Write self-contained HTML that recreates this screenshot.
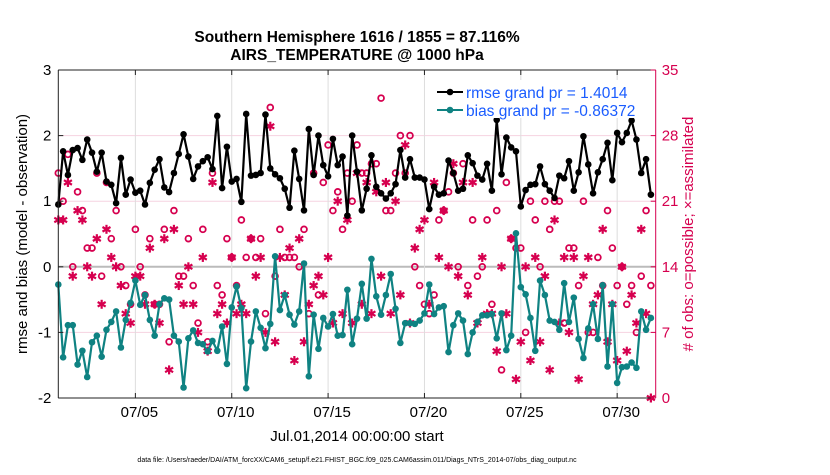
<!DOCTYPE html>
<html><head><meta charset="utf-8"><style>
body{margin:0;background:#fff;width:830px;height:470px;overflow:hidden}
svg{font-family:"Liberation Sans",sans-serif}
</style></head><body>
<svg id="chart" width="830" height="470" xmlns="http://www.w3.org/2000/svg">
<text x="357" y="42" text-anchor="middle" font-size="15.5" font-weight="bold">Southern Hemisphere 1616 / 1855 = 87.116%</text>
<text x="357" y="60" text-anchor="middle" font-size="15.5" font-weight="bold">AIRS_TEMPERATURE @ 1000 hPa</text>
<g id="grid"></g>
<g id="marks"></g>
<g id="axes"></g>
<text transform="translate(27,234) rotate(-90)" text-anchor="middle" font-size="15">rmse and bias (model - observation)</text>
<text transform="translate(693,234) rotate(-90)" text-anchor="middle" font-size="15" fill="#d6004f"># of obs: o=possible; ×=assimilated</text>
<text x="357" y="441" text-anchor="middle" font-size="15">Jul.01,2014 00:00:00 start</text>
<text x="357" y="462" text-anchor="middle" font-size="7">data file: /Users/raeder/DAI/ATM_forcXX/CAM6_setup/f.e21.FHIST_BGC.f09_025.CAM6assim.011/Diags_NTrS_2014-07/obs_diag_output.nc</text>
<g>
<rect x="432" y="80" width="220" height="38" fill="#fff"/>
<line x1="437" y1="92" x2="463" y2="92" stroke="#000" stroke-width="2"/><circle cx="450" cy="92" r="3.3" fill="#000"/>
<text x="466" y="98" font-size="15.5" fill="#1a5cff">rmse grand pr = 1.4014</text>
<line x1="437" y1="110" x2="463" y2="110" stroke="#0f8282" stroke-width="2"/><circle cx="450" cy="110" r="3.3" fill="#0f8282"/>
<text x="466" y="116" font-size="15.5" fill="#1a5cff">bias grand pr = -0.86372</text>
</g>
</svg>
<script>
const rmse=[0.95,1.76,1.40,1.78,1.81,1.63,1.94,1.74,1.45,1.74,1.30,1.25,0.97,1.66,1.10,1.33,1.13,1.16,0.95,1.28,1.48,
1.64,1.21,1.14,1.43,1.72,2.02,1.68,1.34,1.53,1.61,1.67,1.49,2.30,1.20,1.83,1.30,1.34,0.99,2.33,1.39,1.40,
1.43,2.32,1.50,1.41,1.35,1.19,0.90,1.77,1.34,0.86,2.10,1.40,2.00,1.55,1.38,1.95,1.55,1.68,0.78,2.00,1.45,0.86,
1.19,1.70,1.22,1.12,1.04,1.12,1.26,1.78,1.36,1.64,1.36,1.36,1.33,0.88,1.22,1.10,1.12,1.62,1.43,1.16,
1.19,1.70,1.58,1.39,1.33,1.57,1.16,2.24,1.41,1.97,1.82,1.76,0.92,1.17,1.25,1.26,1.53,1.26,1.16,1.05,
1.39,1.35,1.61,1.16,1.44,1.99,1.56,1.12,1.44,1.64,1.89,1.32,2.04,1.90,2.04,2.23,1.94,1.43,1.64,1.10];
const bias=[-0.27,-1.38,-0.89,-0.89,-1.49,-1.28,-1.68,-1.15,-1.05,-1.37,-0.96,-0.84,-0.68,-1.23,-0.81,-0.55,-0.21,-0.58,-0.43,-0.81,-1.05,
-0.57,-0.48,-0.50,-1.05,-1.14,-1.84,-1.09,-0.97,-1.16,-1.18,-1.29,-1.13,-1.28,-0.91,-1.48,-0.62,-0.30,-0.63,-1.85,-1.14,-0.68,
-0.93,-1.24,-0.87,0.16,-0.66,-0.43,-0.73,-0.88,-0.68,0.05,-1.67,-0.73,-1.25,-0.78,-0.91,-0.72,-1.05,-1.04,-0.35,-1.18,-0.79,-0.26,
-0.79,0.12,-0.45,-0.73,-0.43,-0.11,-0.64,-1.16,-0.86,-0.86,-0.87,-0.82,-0.71,-0.27,-0.72,-0.62,-0.60,-1.30,-0.89,-0.71,
-0.82,-1.33,-1.00,-0.84,-0.74,-0.74,-0.72,-1.09,-0.71,-1.27,-1.05,0.51,-0.31,-0.42,-0.78,-1.28,-0.21,-0.43,-0.82,-0.84,
-0.96,-0.25,-0.84,-0.47,-1.10,-1.39,-0.94,-0.57,-1.10,-0.28,-1.52,-0.57,-1.77,-1.53,-1.52,-1.46,-1.54,-0.68,-0.96,-0.78];
const nPossible=[24,21,26,14,22,20,16,16,24,13,23,17,20,14,12,10,18,14,11,17,10,
10,18,6,20,13,13,17,12,8,18,6,24,12,11,17,15,12,19,15,17,15,
17,9,31,13,18,15,15,15,14,18,9,24,11,23,27,20,22,18,24,21,27,24,
24,25,25,32,20,20,24,28,24,28,14,12,10,9,11,19,20,22,24,14,
25,12,19,13,14,19,10,20,3,23,17,16,16,7,21,19,14,21,18,21,
21,8,16,16,12,21,7,7,15,12,20,16,12,14,10,12,7,13,20,12];
const nAssim=[19,19,23,13,20,19,14,13,17,10,18,15,14,12,9,8,13,13,10,16,10,
8,17,3,18,12,10,14,10,7,15,5,23,9,10,8,15,9,10,9,17,13,
15,7,29,6,15,11,16,4,17,6,10,12,13,11,15,8,21,9,19,8,24,10,
23,9,22,13,23,9,21,11,27,8,16,18,19,10,23,15,20,14,25,13,
23,11,23,8,15,9,9,5,14,9,17,2,6,14,4,15,6,13,3,19,
8,15,7,15,2,13,15,10,11,18,6,10,4,14,5,11,8,18,9,0];
const xTickDays=[4,9,14,19,24,29];
const xTickLabels=["07/05","07/10","07/15","07/20","07/25","07/30"];
const yTicks=[-2,-1,0,1,2,3];
const y2Ticks=[0,7,14,21,28,35];
const stepDays=0.25;

const L=58.3,R=655.7,T=70,B=398;
const X=d=>L+(d/31)*(R-L);
const Y=v=>B-(v+2)/5*(B-T);
const Y2=c=>B-c/35*(B-T);
const NS="http://www.w3.org/2000/svg";
function mk(tag,attrs,parent){const e=document.createElementNS(NS,tag);for(const k in attrs)e.setAttribute(k,attrs[k]);parent.appendChild(e);return e;}
const grid=document.getElementById('grid'),marks=document.getElementById('marks'),axes=document.getElementById('axes');
const C="#d6004f";
yTicks.forEach(v=>{if(v>-2&&v<3){const l=mk('line',{x1:L,x2:R,y1:Y(v),y2:Y(v),stroke:v===0?'#bbb':'#f6d3e1','stroke-width':v===0?2:1},grid);

}});
xTickDays.forEach(d=>{const l=mk('line',{x1:X(d),x2:X(d),y1:T,y2:B,stroke:'#ddd','stroke-width':1},grid);

});
nPossible.forEach((c,i)=>{const e=mk('circle',{cx:X(i*stepDays),cy:Y2(c),r:2.9,fill:'none',stroke:C,'stroke-width':1.8},marks);

});
nAssim.forEach((c,i)=>{const x=X(i*stepDays),y=Y2(c);const g=mk('g',{stroke:C,'stroke-width':2.2},marks);


[[0,-4.5,0,4.5],[-4,-2.3,4,2.3],[-4,2.3,4,-2.3]].forEach(s=>mk('line',{x1:x+s[0],y1:y+s[1],x2:x+s[2],y2:y+s[3]},g));});
function series(vals,col,name){
 const p=mk('polyline',{points:vals.map((v,i)=>X(i*stepDays)+','+Y(v)).join(' '),fill:'none',stroke:col,'stroke-width':2.2,'stroke-linejoin':'round'},marks);
 
 
 vals.forEach((v,i)=>{const c=mk('circle',{cx:X(i*stepDays),cy:Y(v),r:3.3,fill:col},marks);
 
 });
}
series(rmse,'#000','rmse');
series(bias,'#0f8282','bias');
mk('line',{x1:L,x2:R,y1:T,y2:T,stroke:'#222'},axes);
mk('line',{x1:L,x2:R,y1:B,y2:B,stroke:'#222'},axes);
mk('line',{x1:L,x2:L,y1:T,y2:B,stroke:'#222'},axes);
mk('line',{x1:R,x2:R,y1:T,y2:B,stroke:C},axes);
yTicks.forEach(v=>{mk('line',{x1:L,x2:L+5,y1:Y(v),y2:Y(v),stroke:'#222'},axes);
const t=mk('text',{x:L-7,y:Y(v)+5,'text-anchor':'end','font-size':15},axes);t.textContent=v;

});
y2Ticks.forEach(c=>{mk('line',{x1:R-5,x2:R,y1:Y2(c),y2:Y2(c),stroke:C},axes);
const t=mk('text',{x:R+6,y:Y2(c)+5,'font-size':15,fill:C},axes);t.textContent=c;

});
xTickDays.forEach((d,i)=>{mk('line',{x1:X(d),x2:X(d),y1:B,y2:B-5,stroke:'#222'},axes);mk('line',{x1:X(d),x2:X(d),y1:T,y2:T+5,stroke:'#222'},axes);
const t=mk('text',{x:X(d)+4,y:B+19,'text-anchor':'middle','font-size':15},axes);t.textContent=xTickLabels[i];

});
</script>
</body></html>
